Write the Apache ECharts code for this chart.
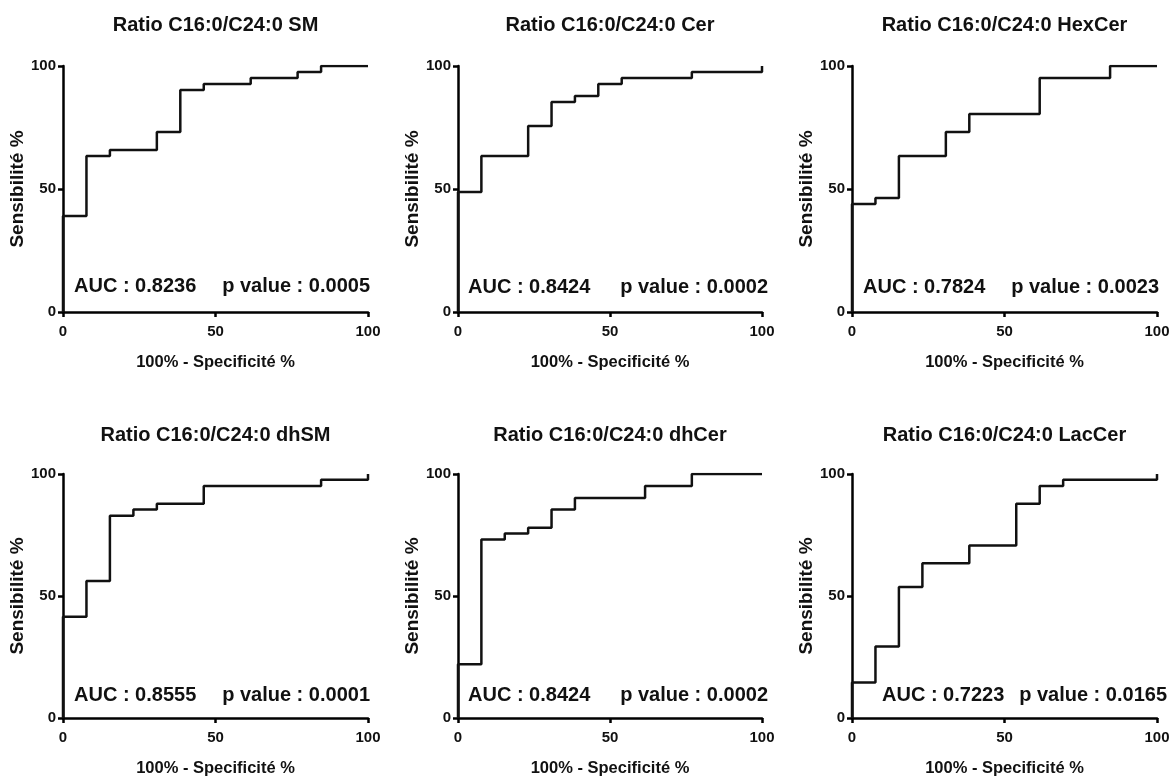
<!DOCTYPE html>
<html>
<head>
<meta charset="utf-8">
<script src="https://cdn.jsdelivr.net/npm/echarts@6/dist/echarts.min.js"></script>
<style>
html,body{margin:0;padding:0;background:#fff;}
#c{width:1174px;height:778px;}
</style>
</head>
<body>
<div id="c"></div>
<script>
// ---- Data ----
const titles = [
  'Ratio C16:0/C24:0 SM', 'Ratio C16:0/C24:0 Cer', 'Ratio C16:0/C24:0 HexCer',
  'Ratio C16:0/C24:0 dhSM', 'Ratio C16:0/C24:0 dhCer', 'Ratio C16:0/C24:0 LacCer'
];
const aucTexts = ['AUC : 0.8236', 'AUC : 0.8424', 'AUC : 0.7824', 'AUC : 0.8555', 'AUC : 0.8424', 'AUC : 0.7223'];
const pTexts = ['p value : 0.0005', 'p value : 0.0002', 'p value : 0.0023', 'p value : 0.0001', 'p value : 0.0002', 'p value : 0.0165'];
const xAxisName = '100% - Specificité %';
const yAxisName = 'Sensibilité %';

// 100% - specificity (x) and sensitivity (y) for each ROC curve
const smX = [0, 0, 7.69, 15.38, 30.77, 38.46, 46.15, 61.54, 76.92, 84.62, 100];
const smY = [0, 39.0, 63.4, 65.9, 73.2, 90.2, 92.7, 95.1, 97.6, 100, 100];
const cerX = [0, 0, 7.69, 23.08, 30.77, 38.46, 46.15, 53.85, 76.92, 100];
const cerY = [0, 48.8, 63.4, 75.6, 85.4, 87.8, 92.7, 95.1, 97.6, 100];
const hexX = [0, 0, 7.69, 15.38, 30.77, 38.46, 61.54, 84.62, 100];
const hexY = [0, 43.9, 46.3, 63.4, 73.2, 80.5, 95.1, 100, 100];
const dhsmX = [0, 0, 7.69, 15.38, 23.08, 30.77, 46.15, 84.62, 100];
const dhsmY = [0, 41.5, 56.1, 82.9, 85.4, 87.8, 95.1, 97.6, 100];
const dhcerX = [0, 0, 7.69, 15.38, 23.08, 30.77, 38.46, 61.54, 76.92, 100];
const dhcerY = [0, 22.0, 73.2, 75.6, 78.0, 85.4, 90.2, 95.1, 100, 100];
const lacX = [0, 0, 7.69, 15.38, 23.08, 38.46, 53.85, 61.54, 69.23, 100];
const lacY = [0, 14.6, 29.3, 53.7, 63.4, 70.7, 87.8, 95.1, 97.6, 100];

const curvesX = [smX, cerX, hexX, dhsmX, dhcerX, lacX];
const curvesY = [smY, cerY, hexY, dhsmY, dhcerY, lacY];

// ---- Layout ----
const colLeft = [63, 458, 852];
const colWidth = [305, 304, 305];
const rowTop = [66, 474];
const plotH = 246;
const titleTop = [15, 425];
const aucLeft = [74, 468, 863, 74, 468, 882];
const pRight = [370, 768, 1159, 370, 768, 1167];
const textY = [286, 287, 287, 695, 695, 695];

const FONT = '"Liberation Sans", Arial, sans-serif';

const grids = [], xAxes = [], yAxes = [], series = [], titleArr = [], graphics = [];
for (let i = 0; i < 6; i++) {
  const col = i % 3, row = Math.floor(i / 3);
  grids.push({left: colLeft[col], top: rowTop[row], width: colWidth[col], height: plotH, containLabel: false});
  const axisCommon = {
    type: 'value', min: 0, max: 100, interval: 50,
    gridIndex: i,
    splitLine: {show: false},
    axisLine: {show: true, onZero: false, lineStyle: {color: '#000', width: 2.5}},
    axisTick: {show: true, inside: false, length: 5, lineStyle: {color: '#000', width: 2.5}},
    nameLocation: 'middle'
  };
  xAxes.push(Object.assign({}, axisCommon, {
    name: xAxisName, nameGap: 42,
    nameTextStyle: {color: '#111', fontWeight: 'bold', fontFamily: FONT, fontSize: 16.5},
    axisLabel: {color: '#111', fontSize: 15, fontWeight: 'bold', fontFamily: FONT, margin: 12,
      showMinLabel: true, showMaxLabel: true}
  }));
  yAxes.push(Object.assign({}, axisCommon, {
    name: yAxisName, nameGap: 36, nameRotate: 90,
    nameTextStyle: {color: '#111', fontWeight: 'bold', fontFamily: FONT, fontSize: 19},
    axisLabel: {color: '#111', fontSize: 15, fontWeight: 'bold', fontFamily: FONT, margin: 7}
  }));
  series.push({
    type: 'line', xAxisIndex: i, yAxisIndex: i,
    step: 'end', symbol: 'none', animation: false,
    lineStyle: {color: '#111', width: 2.5},
    data: curvesX[i].map((x, k) => [x, curvesY[i][k]])
  });
  titleArr.push({
    text: titles[i], left: colLeft[col] + colWidth[col] / 2, top: titleTop[row],
    textAlign: 'center', padding: 0,
    textStyle: {color: '#111', fontSize: 20, fontWeight: 'bold', fontFamily: FONT}
  });
  graphics.push({
    type: 'text', x: aucLeft[i], y: textY[i], silent: true,
    style: {text: aucTexts[i], fill: '#111', font: 'bold 20px ' + FONT, align: 'left', verticalAlign: 'middle'}
  });
  graphics.push({
    type: 'text', x: pRight[i], y: textY[i], silent: true,
    style: {text: pTexts[i], fill: '#111', font: 'bold 20px ' + FONT, align: 'right', verticalAlign: 'middle'}
  });
}

const chart = echarts.init(document.getElementById('c'), null, {renderer: 'canvas'});
chart.setOption({
  backgroundColor: '#fff',
  animation: false,
  title: titleArr,
  grid: grids,
  xAxis: xAxes,
  yAxis: yAxes,
  series: series,
  graphic: graphics
});
</script>
</body>
</html>
